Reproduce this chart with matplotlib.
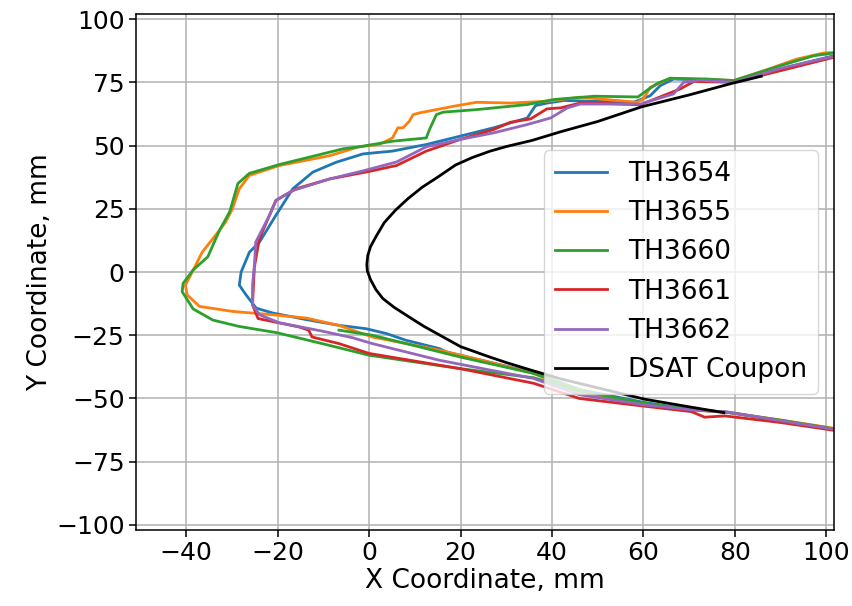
import numpy as np
import matplotlib
matplotlib.use("Agg")
import matplotlib.pyplot as plt

labels = ["TH3654", "TH3655", "TH3660", "TH3661", "TH3662"]

th3654_x = [101.7, 90, 79.8, 75.4, 66.6, 63.7, 61.5, 57.9, 49.3, 42.6, 39, 36.4, 34.6, 27.2, 19.9, 12.5, 5.1, -1.3, -7.2, -12.3, -16.7, -20.4, -24, -26.2, -28, -28.4, -26.9, -24.7, -21.1, -13.8, -6.6, -0.7, 3.7, 8.1, 15.4, 16.9, 26, 36, 46, 60, 70, 78.3, 90, 101.7]
th3654_y = [85.5, 80.3, 75.3, 75.7, 76.3, 73.7, 69.7, 67.1, 67.5, 67.8, 66.8, 65.8, 60.9, 57, 53.7, 50.4, 47.8, 46.7, 43.4, 39.5, 32.9, 22.4, 11.8, 7.8, 0, -5.2, -9.1, -14.3, -16.2, -18.8, -21.1, -22.4, -24.3, -27, -30.3, -31.6, -35.5, -39.8, -46.5, -51.5, -54.3, -55.5, -58.7, -62]

th3655_x = [101.7, 99.5, 93.6, 86.4, 79.8, 73.9, 65.9, 61.5, 60, 58.6, 46.2, 39, 30.9, 23.5, 18.4, 14.7, 11, 9.6, 8.8, 7.4, 6.3, 5.1, 2.2, -2.2, -8.6, -19.6, -26.2, -28.4, -29.9, -31.4, -33.6, -36.5, -38.7, -40.2, -39.8, -37.1, -29.8, -21.1, -13.8, -6.6, 0.7, 4.4, 15.4, 26, 36, 46, 60, 70, 78.3, 90, 101.7]
th3655_y = [86.8, 86.6, 84.2, 79.6, 75.7, 76, 76.6, 73, 68.4, 67.1, 69.1, 67.5, 66.8, 67.1, 65.5, 64.2, 62.9, 62.2, 59.6, 57, 57, 53, 50.4, 49.5, 46, 42.1, 38.2, 32.9, 25, 19.7, 14.5, 7.9, 0, -5.2, -9.1, -13.6, -15.6, -16.9, -18.2, -21.1, -25.7, -27, -30.9, -35.5, -40.1, -47.5, -52, -54.5, -55.5, -58.5, -61.8]

th3660_x = [101.7, 97.3, 90, 79.8, 73.9, 65.9, 63.2, 61, 58.8, 49.3, 40.4, 34.6, 23.5, 16.2, 14.7, 13.2, 12.5, 5.1, -2.2, -5.7, -19.6, -26.2, -28.7, -30.5, -32.7, -35.3, -38.5, -40.7, -40.9, -38.5, -34.2, -28.5, -20.2, -10.3, 0, 19.9, 36, 46, 60, 70, 78.3, 90, 101.7,
            np.nan, -6.6, 0.7, 8.1, 19.9, 36, 46]
th3660_y = [86.6, 85.5, 81.6, 75.7, 76.3, 76.6, 74.7, 72.1, 69.2, 69.5, 68.2, 66.2, 64.2, 63.2, 62.2, 56.3, 53, 51.7, 49.5, 48.7, 42.5, 39, 35, 23.8, 16.6, 6, 0.8, -4.5, -7.8, -14.6, -19, -21.5, -24, -28.3, -32.9, -38.2, -41.8, -47, -51.8, -54.3, -55.4, -58.6, -62,
            np.nan, -23, -25, -28.3, -33.6, -40.1, -46.5]

th3661_x = [101.7, 90, 79.8, 71, 68.1, 59.3, 49.3, 46.2, 41.9, 38.9, 35.3, 34.6, 30.9, 27.2, 19.9, 12.5, 6, 0.1, -8.6, -16, -20.4, -21.8, -24, -25.1, -25.3, -25.5, -24.3, -15.4, -13.2, -12.5, -6.6, 0, 19.9, 36, 46, 60, 70.5, 73.4, 77.8, 90, 101.7]
th3661_y = [84.9, 79.6, 75, 75.3, 72.4, 66.1, 66.8, 66.8, 64.9, 64.5, 60.5, 60.3, 59.2, 56.3, 52.4, 47.8, 42.1, 39.8, 36.8, 32.9, 28.3, 22.4, 13.2, 2, -5, -13, -18.4, -21.7, -23, -25.7, -28.3, -32.2, -38.2, -44, -50, -53, -55.2, -57.4, -56.9, -59.5, -62.6]

th3662_x = [101.7, 90, 79.8, 72.5, 68.8, 66.6, 59.3, 46.2, 43.4, 39.7, 34.6, 27.2, 19.9, 12.5, 6, -1.3, -8.6, -16.7, -20.4, -21.8, -24.8, -25.1, -25.5, -25.5, -24, -19.6, -10.2, -3.6, 0.7, 15.4, 36, 46, 60, 71, 78.3, 90, 101.7]
th3662_y = [85.3, 80.5, 75, 75.8, 75, 70.4, 66.4, 66.4, 64.9, 60.9, 58.3, 55, 52.4, 49.5, 43.5, 40, 36.8, 32.2, 28.3, 22.4, 11.8, 2.6, -5, -13, -16.9, -20.1, -23.4, -26, -28.3, -34.9, -42.1, -48.5, -52.5, -54.6, -55.3, -58.8, -62.2]

coupon_x = [77.6, 70, 60.3, 50, 42, 35.6, 30, 26.2, 20, 16, 12, 8.5, 5.5, 3, 1.5, 0.3, -0.4, -0.5, -0.3, 0.3, 1.5, 3.3, 5.8, 8.5, 11.6, 15, 18.9, 22.5, 26.5, 30, 35.6, 42, 50, 59.6, 70, 79.2, 85.8]
coupon_y = [-55.6, -53.3, -50.3, -45.8, -42.3, -38.9, -35.8, -33.5, -29.5, -25.5, -21.5, -17.5, -14, -10.5, -7, -3, 0.5, 3, 6.5, 10, 14, 19.5, 24.5, 29, 33.5, 37.5, 42.3, 45.2, 47.8, 49.6, 52, 55.5, 59.5, 65.3, 70, 74.5, 77.4]

series_x = [th3654_x, th3655_x, th3660_x, th3661_x, th3662_x]
series_y = [th3654_y, th3655_y, th3660_y, th3661_y, th3662_y]
colors = ["#1f77b4", "#ff7f0e", "#2ca02c", "#d62728", "#9467bd"]

plt.rcParams.update({
    "font.family": "DejaVu Sans",
    "axes.linewidth": 1.1,
    "xtick.major.width": 1.1,
    "ytick.major.width": 1.1,
    "xtick.major.size": 4.7,
    "ytick.major.size": 4.7,
})

fig = plt.figure(figsize=(8.52, 6.06), dpi=100)
ax = fig.add_axes([136/852, 1-530/606, (834-136)/852, (530-14)/606])

for xs, ys, c, lab in zip(series_x, series_y, colors, labels):
    ax.plot(xs, ys, color=c, lw=2.0, label=lab)
ax.plot(coupon_x, coupon_y, color="black", lw=2.0, label="DSAT Coupon")

ax.set_xlim(-51, 101.7)
ax.set_ylim(-102, 102)
ax.set_xticks([-40, -20, 0, 20, 40, 60, 80, 100])
ax.set_yticks([-100, -75, -50, -25, 0, 25, 50, 75, 100])
ax.grid(True, color="#b0b0b0", lw=1.1)
ax.tick_params(labelsize=18)
ax.set_xlabel("X Coordinate, mm", fontsize=19, labelpad=2)
ax.set_ylabel("Y Coordinate, mm", fontsize=19, labelpad=2)
ax.legend(loc="center right", fontsize=19, borderaxespad=0.6)

fig.savefig("out.png", dpi=100)
